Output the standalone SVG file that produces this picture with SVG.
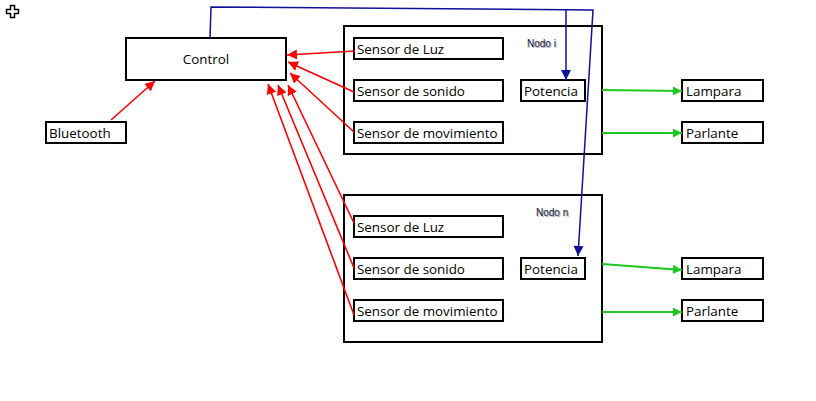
<svg xmlns="http://www.w3.org/2000/svg" width="816" height="401" viewBox="0 0 816 401">
<defs>
<marker id="ar" viewBox="0 0 10 10" refX="10" refY="5" markerWidth="10" markerHeight="10" markerUnits="userSpaceOnUse" orient="auto"><path d="M0,0 L10,5 L0,10 z" fill="#ff0000"/></marker>
<marker id="ag" viewBox="0 0 10 10" refX="10" refY="5" markerWidth="10" markerHeight="9" markerUnits="userSpaceOnUse" orient="auto"><path d="M0,0 L10,5 L0,10 z" fill="#1ec81e"/></marker>
<marker id="ab" viewBox="0 0 10 10" refX="10" refY="5" markerWidth="12" markerHeight="10" markerUnits="userSpaceOnUse" orient="auto"><path d="M0,0 L10,5 L0,10 z" fill="#10109a"/></marker>
</defs>
<style>
.b{fill:#fff;stroke:#000;stroke-width:2}
.t{font-family:"Open Sans","Liberation Sans",sans-serif;font-size:13.4px;fill:#000}
.s{font-family:"Liberation Sans",sans-serif;font-size:10px;fill:#1a1a40}
.sh{font-family:"Liberation Sans",sans-serif;font-size:10px;fill:#aaa}
.r{stroke:#ff0000;stroke-width:1.6;fill:none;marker-end:url(#ar)}
.g{stroke:#1ec81e;stroke-width:2;fill:none;marker-end:url(#ag)}
.bl{stroke:#10109a;stroke-width:1.5;fill:none}
</style>
<rect width="816" height="401" fill="#fff"/>
<path d="M10.5,5.5 h4 v4 h4 v4 h-4 v4 h-4 v-4 h-4 v-4 h4 z" fill="#fff" stroke="#000" stroke-width="1.5"/>

<g id="control"><rect class="b" x="126" y="38" width="160" height="42"/><text class="t" x="206" y="64" text-anchor="middle">Control</text></g>
<g id="bluetooth"><rect class="b" x="46" y="122" width="80" height="21"/><text class="t" x="49" y="138">Bluetooth</text></g>

<g id="nodo-i">
<rect class="b" x="344" y="26" width="258" height="128"/>
<text class="sh" x="528" y="48">Nodo i</text><text class="s" x="527" y="47">Nodo i</text>
</g>
<g id="luz-i"><rect class="b" x="354" y="38" width="149" height="21"/><text class="t" x="357" y="54">Sensor de Luz</text></g>
<g id="sonido-i"><rect class="b" x="354" y="80" width="149" height="21"/><text class="t" x="357" y="96">Sensor de sonido</text></g>
<g id="mov-i"><rect class="b" x="354" y="122" width="149" height="21"/><text class="t" x="357" y="138">Sensor de movimiento</text></g>
<g id="pot-i"><rect class="b" x="521" y="80" width="64" height="21"/><text class="t" x="524" y="96">Potencia</text></g>
<g id="lampara-i"><rect class="b" x="682" y="80" width="81" height="21"/><text class="t" x="686" y="96">Lampara</text></g>
<g id="parlante-i"><rect class="b" x="682" y="122" width="81" height="21"/><text class="t" x="686" y="138">Parlante</text></g>

<g id="nodo-n">
<rect class="b" x="344" y="195" width="258" height="147"/>
<text class="sh" x="537" y="217">Nodo n</text><text class="s" x="536" y="216">Nodo n</text>
</g>
<g id="luz-n"><rect class="b" x="354" y="216" width="149" height="21"/><text class="t" x="357" y="232">Sensor de Luz</text></g>
<g id="sonido-n"><rect class="b" x="354" y="258" width="149" height="21"/><text class="t" x="357" y="274">Sensor de sonido</text></g>
<g id="mov-n"><rect class="b" x="354" y="300" width="149" height="21"/><text class="t" x="357" y="316">Sensor de movimiento</text></g>
<g id="pot-n"><rect class="b" x="521" y="258" width="64" height="21"/><text class="t" x="524" y="274">Potencia</text></g>
<g id="lampara-n"><rect class="b" x="682" y="258" width="81" height="21"/><text class="t" x="686" y="274">Lampara</text></g>
<g id="parlante-n"><rect class="b" x="682" y="300" width="81" height="21"/><text class="t" x="686" y="316">Parlante</text></g>

<g id="connectors">
<line class="r" x1="111" y1="120" x2="155" y2="81"/>
<line class="r" x1="355" y1="51" x2="287" y2="55"/>
<line class="r" x1="354" y1="92" x2="288" y2="62"/>
<line class="r" x1="354" y1="132" x2="290" y2="73"/>
<line class="r" x1="354" y1="223" x2="288" y2="85"/>
<line class="r" x1="354" y1="268" x2="278" y2="85"/>
<line class="r" x1="354" y1="315" x2="268" y2="84"/>
<line class="g" x1="602" y1="90" x2="682" y2="91"/>
<line class="g" x1="602" y1="133" x2="682" y2="133"/>
<line class="g" x1="602" y1="264" x2="682" y2="270"/>
<line class="g" x1="602" y1="312" x2="682" y2="312"/>
<polyline class="bl" points="210,38 211,7 593,10 578,256" marker-end="url(#ab)"/>
<line class="bl" x1="566" y1="10" x2="566" y2="80" marker-end="url(#ab)"/>
</g>
</svg>
